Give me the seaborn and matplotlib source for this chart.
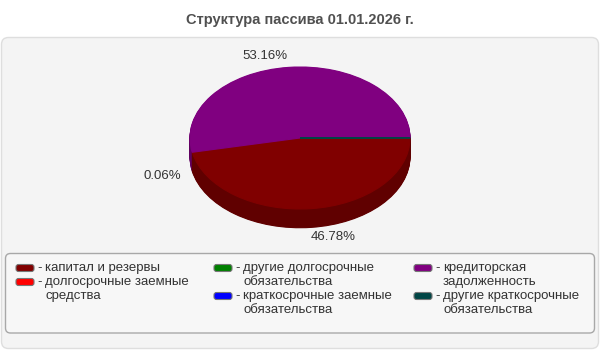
import matplotlib
matplotlib.use('Agg')
import matplotlib.pyplot as plt
import matplotlib.colors as mcolors
from matplotlib.patches import FancyBboxPatch
import seaborn as sns

# chart data
title = 'Структура пассива 01.01.2026 г.'
categories = ['капитал и резервы',
              'долгосрочные заемные\nсредства',
              'другие долгосрочные\nобязательства',
              'краткосрочные заемные\nобязательства',
              'кредиторская\nзадолженность',
              'другие краткосрочные\nобязательства']
shares = [46.78, 0.0, 0.0, 0.0, 53.16, 0.06]
colors = ['#800000', '#ff0000', '#008000', '#0000ff', '#800080', '#004545']
pct_labels = ['46.78%', '', '', '', '53.16%', '0.06%']

# where the percent labels sit (pie data units)
label_pos = [(0.30, -1.39), None, None, None, (-0.32, 1.155), (-1.25, -0.535)]

sns.set_theme(style='white')
plt.rcParams['font.family'] = ['Liberation Sans', 'DejaVu Sans']

fig = plt.figure(figsize=(6, 3.5), dpi=100)
fig.patch.set_facecolor('white')

# background layer in pixel units
bg = fig.add_axes([0, 0, 1, 1])
bg.set_xlim(0, 600)
bg.set_ylim(350, 0)
bg.axis('off')
bg.add_patch(FancyBboxPatch((1.5, 37.5), 597, 311, boxstyle='round,pad=0,rounding_size=7',
                            fc='#f4f4f4', ec='#dedede', lw=1))
bg.add_patch(FancyBboxPatch((5.5, 253.5), 589, 79.5, boxstyle='round,pad=0,rounding_size=5',
                            fc='#f7f7f7', ec='#a8a8a8', lw=1))
bg.text(300, 20, title, ha='center', va='center', fontsize=10.5, fontweight='bold', color='#505050')

# pie axes: ellipse rx x ry pixels centred at (cx, cy)
rx, ry = 110, 71
cx, cy = 300, 138
x0, x1, y0, y1 = -1.3, 1.3, -1.6, 1.3
ax = fig.add_axes([(cx + x0 * rx) / 600, 1 - (cy - y0 * ry) / 350,
                   (x1 - x0) * rx / 600, (y1 - y0) * ry / 350])

def darken(c, f=0.75):
    r, g, b = mcolors.to_rgb(c)
    return (r * f, g * f, b * f)

side_colors = [darken(c) for c in colors]
depth = 0.264
steps = 24
for k in range(steps, 0, -1):
    wedges, _ = ax.pie(shares, colors=side_colors, startangle=0, counterclock=False,
                       center=(0, -depth * k / steps), wedgeprops={'linewidth': 0})
    for w, v in zip(wedges, shares):
        if v > 0:
            w.set_edgecolor(w.get_facecolor())
            w.set_linewidth(0.8)

wedges, _ = ax.pie(shares, colors=colors, startangle=0, counterclock=False,
                   center=(0, 0), wedgeprops={'linewidth': 0})
for w, v in zip(wedges, shares):
    if v > 0:
        w.set_edgecolor(w.get_facecolor())
        w.set_linewidth(0.8)

for txt, pos in zip(pct_labels, label_pos):
    if pos is not None:
        ax.text(pos[0], pos[1], txt, ha='center', va='center', fontsize=9.5, color='#333333')

ax.set_aspect('auto')
ax.set_xlim(x0, x1)
ax.set_ylim(y0, y1)
ax.axis('off')

# legend, filled column by column
col_x = [16, 214, 414]
row_y0 = 268
line_h = 14
per_col = 2
for j, colx in enumerate(col_x):
    row = 0
    for i in range(j * per_col, (j + 1) * per_col):
        y = row_y0 + row * line_h
        bg.add_patch(FancyBboxPatch((colx, y - 3.5), 18, 7, boxstyle='round,pad=0,rounding_size=2.5',
                                    fc=colors[i], ec='#777777', lw=0.8))
        bg.text(colx + 21, y, '-', ha='left', va='center', fontsize=9.5, color='#333333')
        lines = categories[i].split('\n')
        for n, line in enumerate(lines):
            bg.text(colx + 29, y + n * line_h, line, ha='left', va='center', fontsize=9.5, color='#333333')
        row += len(lines)

fig.savefig('out.png', dpi=100, facecolor='white')
